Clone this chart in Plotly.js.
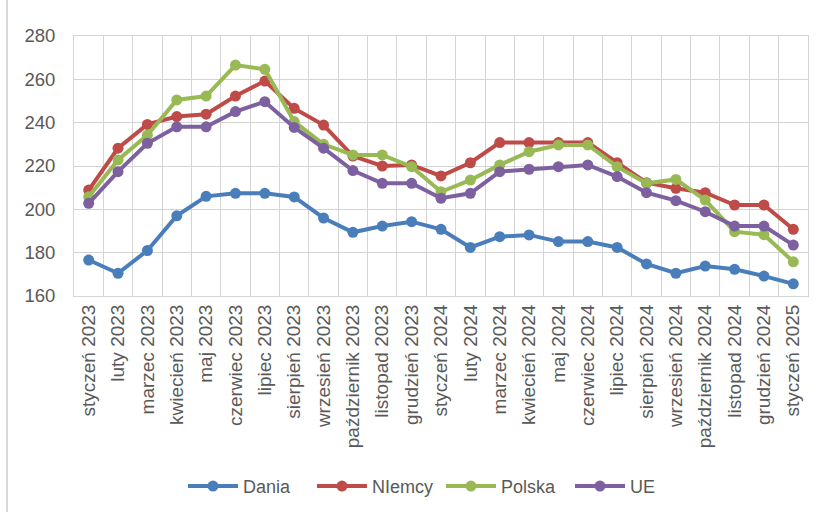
<!DOCTYPE html>
<html>
<head>
<meta charset="utf-8">
<script src="https://cdn.plot.ly/plotly-3.0.1.min.js"></script>
<style>
  html, body { margin: 0; padding: 0; background: #fff; }
  #chart { width: 821px; height: 512px; }
  #frame { position: absolute; left: 6px; top: 0; width: 2px; height: 512px; background: #d9d9d9; }
</style>
</head>
<body>
<div id="chart"></div>
<div id="frame"></div>
<script>
const categories = [
  "styczeń 2023", "luty 2023", "marzec 2023", "kwiecień 2023", "maj 2023", "czerwiec 2023",
  "lipiec 2023", "sierpień 2023", "wrzesień 2023", "październik 2023", "listopad 2023", "grudzień 2023",
  "styczeń 2024", "luty 2024", "marzec 2024", "kwiecień 2024", "maj 2024", "czerwiec 2024",
  "lipiec 2024", "sierpień 2024", "wrzesień 2024", "październik 2024", "listopad 2024", "grudzień 2024",
  "styczeń 2025"
];
const dania  = [176.6,170.5,181,197,206,207.4,207.4,205.7,196,189.4,192.3,194.3,190.8,182.4,187.4,188.2,185.1,185.1,182.4,174.8,170.5,173.8,172.3,169.2,165.6];
const niemcy = [208.9,228.2,239.2,242.8,243.9,252.3,259.2,246.6,238.9,224.6,220,220.5,215.4,221.5,230.8,230.8,230.8,230.8,221.5,212.3,209.7,207.7,202,202,190.8];
const polska = [205.8,222.8,234.3,250.5,252.3,266.6,264.6,240.5,230,225.1,225.1,219.7,208.1,213.5,220.5,226.6,229.7,229.7,219.7,212,213.8,204.3,189.7,188.3,175.8];
const ue     = [202.8,217.4,230.5,238.1,238.1,245.1,249.7,237.8,228.2,217.9,212,212,205.1,207.4,217.4,218.5,219.7,220.5,215.1,207.7,204,198.9,192.3,192.3,183.5];
const seriesNames = ["Dania", "NIemcy", "Polska", "UE"];
const yTicks = [160, 180, 200, 220, 240, 260, 280];

const colors = ["#4A7EBB", "#BE4B48", "#98B954", "#7D60A0"];
const seriesData = [dania, niemcy, polska, ue];

const traces = seriesData.map((vals, i) => ({
  type: "scatter",
  mode: "lines+markers",
  name: seriesNames[i],
  x: categories,
  y: vals,
  line: { color: colors[i], width: 4 },
  marker: { color: colors[i], size: 11 }
}));

const fam = "Liberation Sans, Arial, sans-serif";
const xFont = { family: fam, size: 19, color: "#595959" };
const yFont = { family: fam, size: 18.5, color: "#595959" };
const legFont = { family: fam, size: 18, color: "#595959" };

const layout = {
  width: 821,
  height: 512,
  margin: { l: 74, r: 13, t: 36, b: 216 },
  paper_bgcolor: "#ffffff",
  plot_bgcolor: "#ffffff",
  font: yFont,
  showlegend: true,
  legend: {
    orientation: "h",
    x: 0.5, xanchor: "center",
    yref: "container", y: 0.05, yanchor: "middle",
    font: legFont,
    itemwidth: 50,
    entrywidth: 64,
    entrywidthmode: "pixels"
  },
  xaxis: {
    type: "category",
    range: [-0.5, categories.length - 0.5],
    tickson: "boundaries",
    showgrid: true,
    gridcolor: "#d4d4d4",
    gridwidth: 1,
    showline: true,
    linecolor: "#d4d4d4",
    linewidth: 1,
    mirror: true,
    ticks: "",
    tickangle: -90,
    tickfont: xFont,
    automargin: false,
    fixedrange: true
  },
  yaxis: {
    range: [160, 280],
    tickvals: yTicks,
    ticktext: yTicks.map(String),
    showgrid: true,
    gridcolor: "#d4d4d4",
    gridwidth: 1,
    zeroline: false,
    showline: true,
    linecolor: "#d4d4d4",
    linewidth: 1,
    mirror: true,
    ticks: "",
    tickfont: yFont,
    ticklabelstandoff: 14,
    automargin: false,
    fixedrange: true
  }
};

Plotly.newPlot("chart", traces, layout, { displayModeBar: false, staticPlot: true });
</script>
</body>
</html>
